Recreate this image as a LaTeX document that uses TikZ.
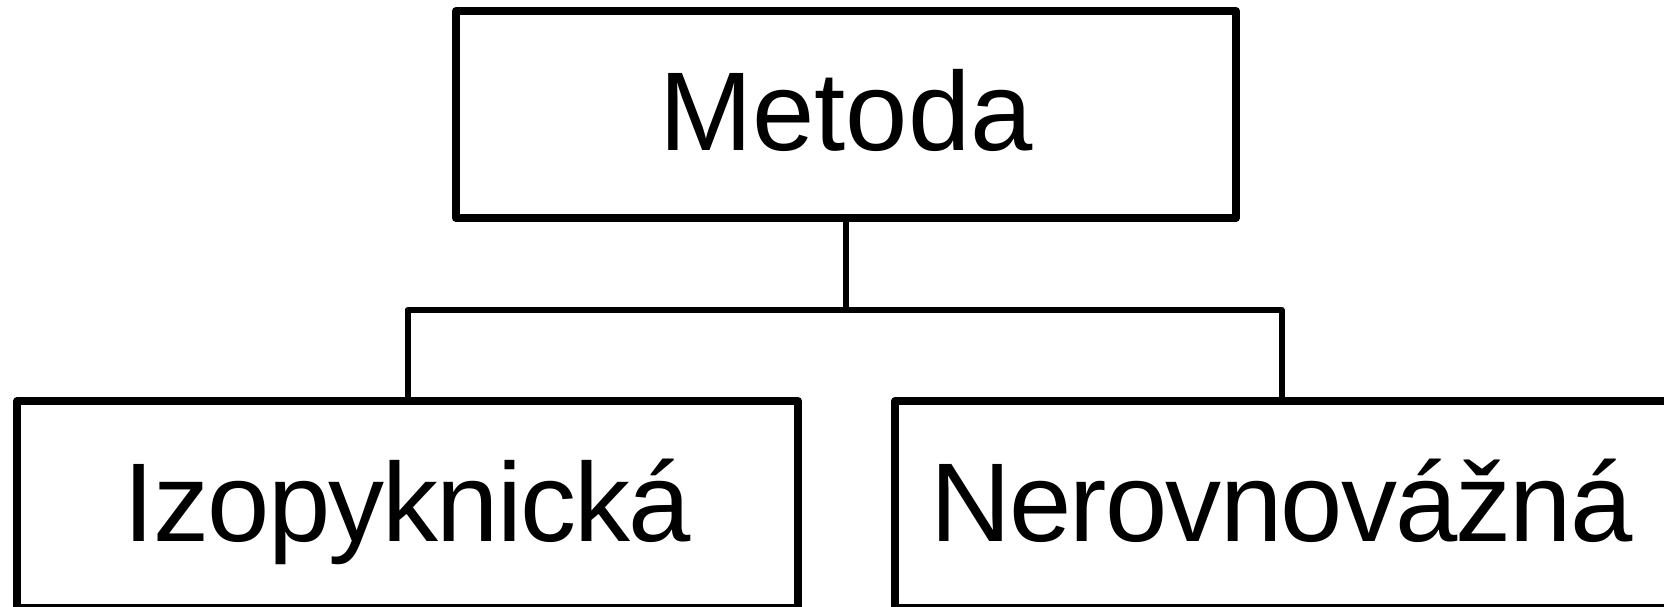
\documentclass[tikz,border=0pt]{standalone}
\usepackage{fontspec}
\setmainfont{Liberation Sans}
\newfontfamily\tightsans[LetterSpace=-1.6]{Liberation Sans}
\begin{document}
\begin{tikzpicture}[x=1pt,y=1pt,
  line width=8pt, line join=round,
  box/.style={draw=black, inner sep=0pt, outer sep=0pt,
    text height=80pt, text depth=7pt,
    font=\fontsize{112}{134}\selectfont},
  childbox/.style={box, font=\fontsize{112}{134}\tightsans},
  link/.style={draw=black, line width=6pt}]
  \clip (0,0) rectangle (1664,606);
  \fill[white] (0,0) rectangle (1664,606);
  % parent box
  \node[box, minimum width=780pt, minimum height=207pt] (metoda) at (846,491.5) {Metoda};
  % child boxes
  \node[childbox, minimum width=781pt, minimum height=207pt] (izo) at (407.5,101.5) {Izopyknická};
  \node[childbox, minimum width=773pt, minimum height=207pt] (nerov) at (1281.5,101.5) {Nerovnovážná};
  % branching connector
  \coordinate (split) at (846,296);
  \draw[link] (metoda.south) -- (split);
  \draw[link] (izo.north) |- (split) -| (nerov.north);
\end{tikzpicture}
\end{document}
